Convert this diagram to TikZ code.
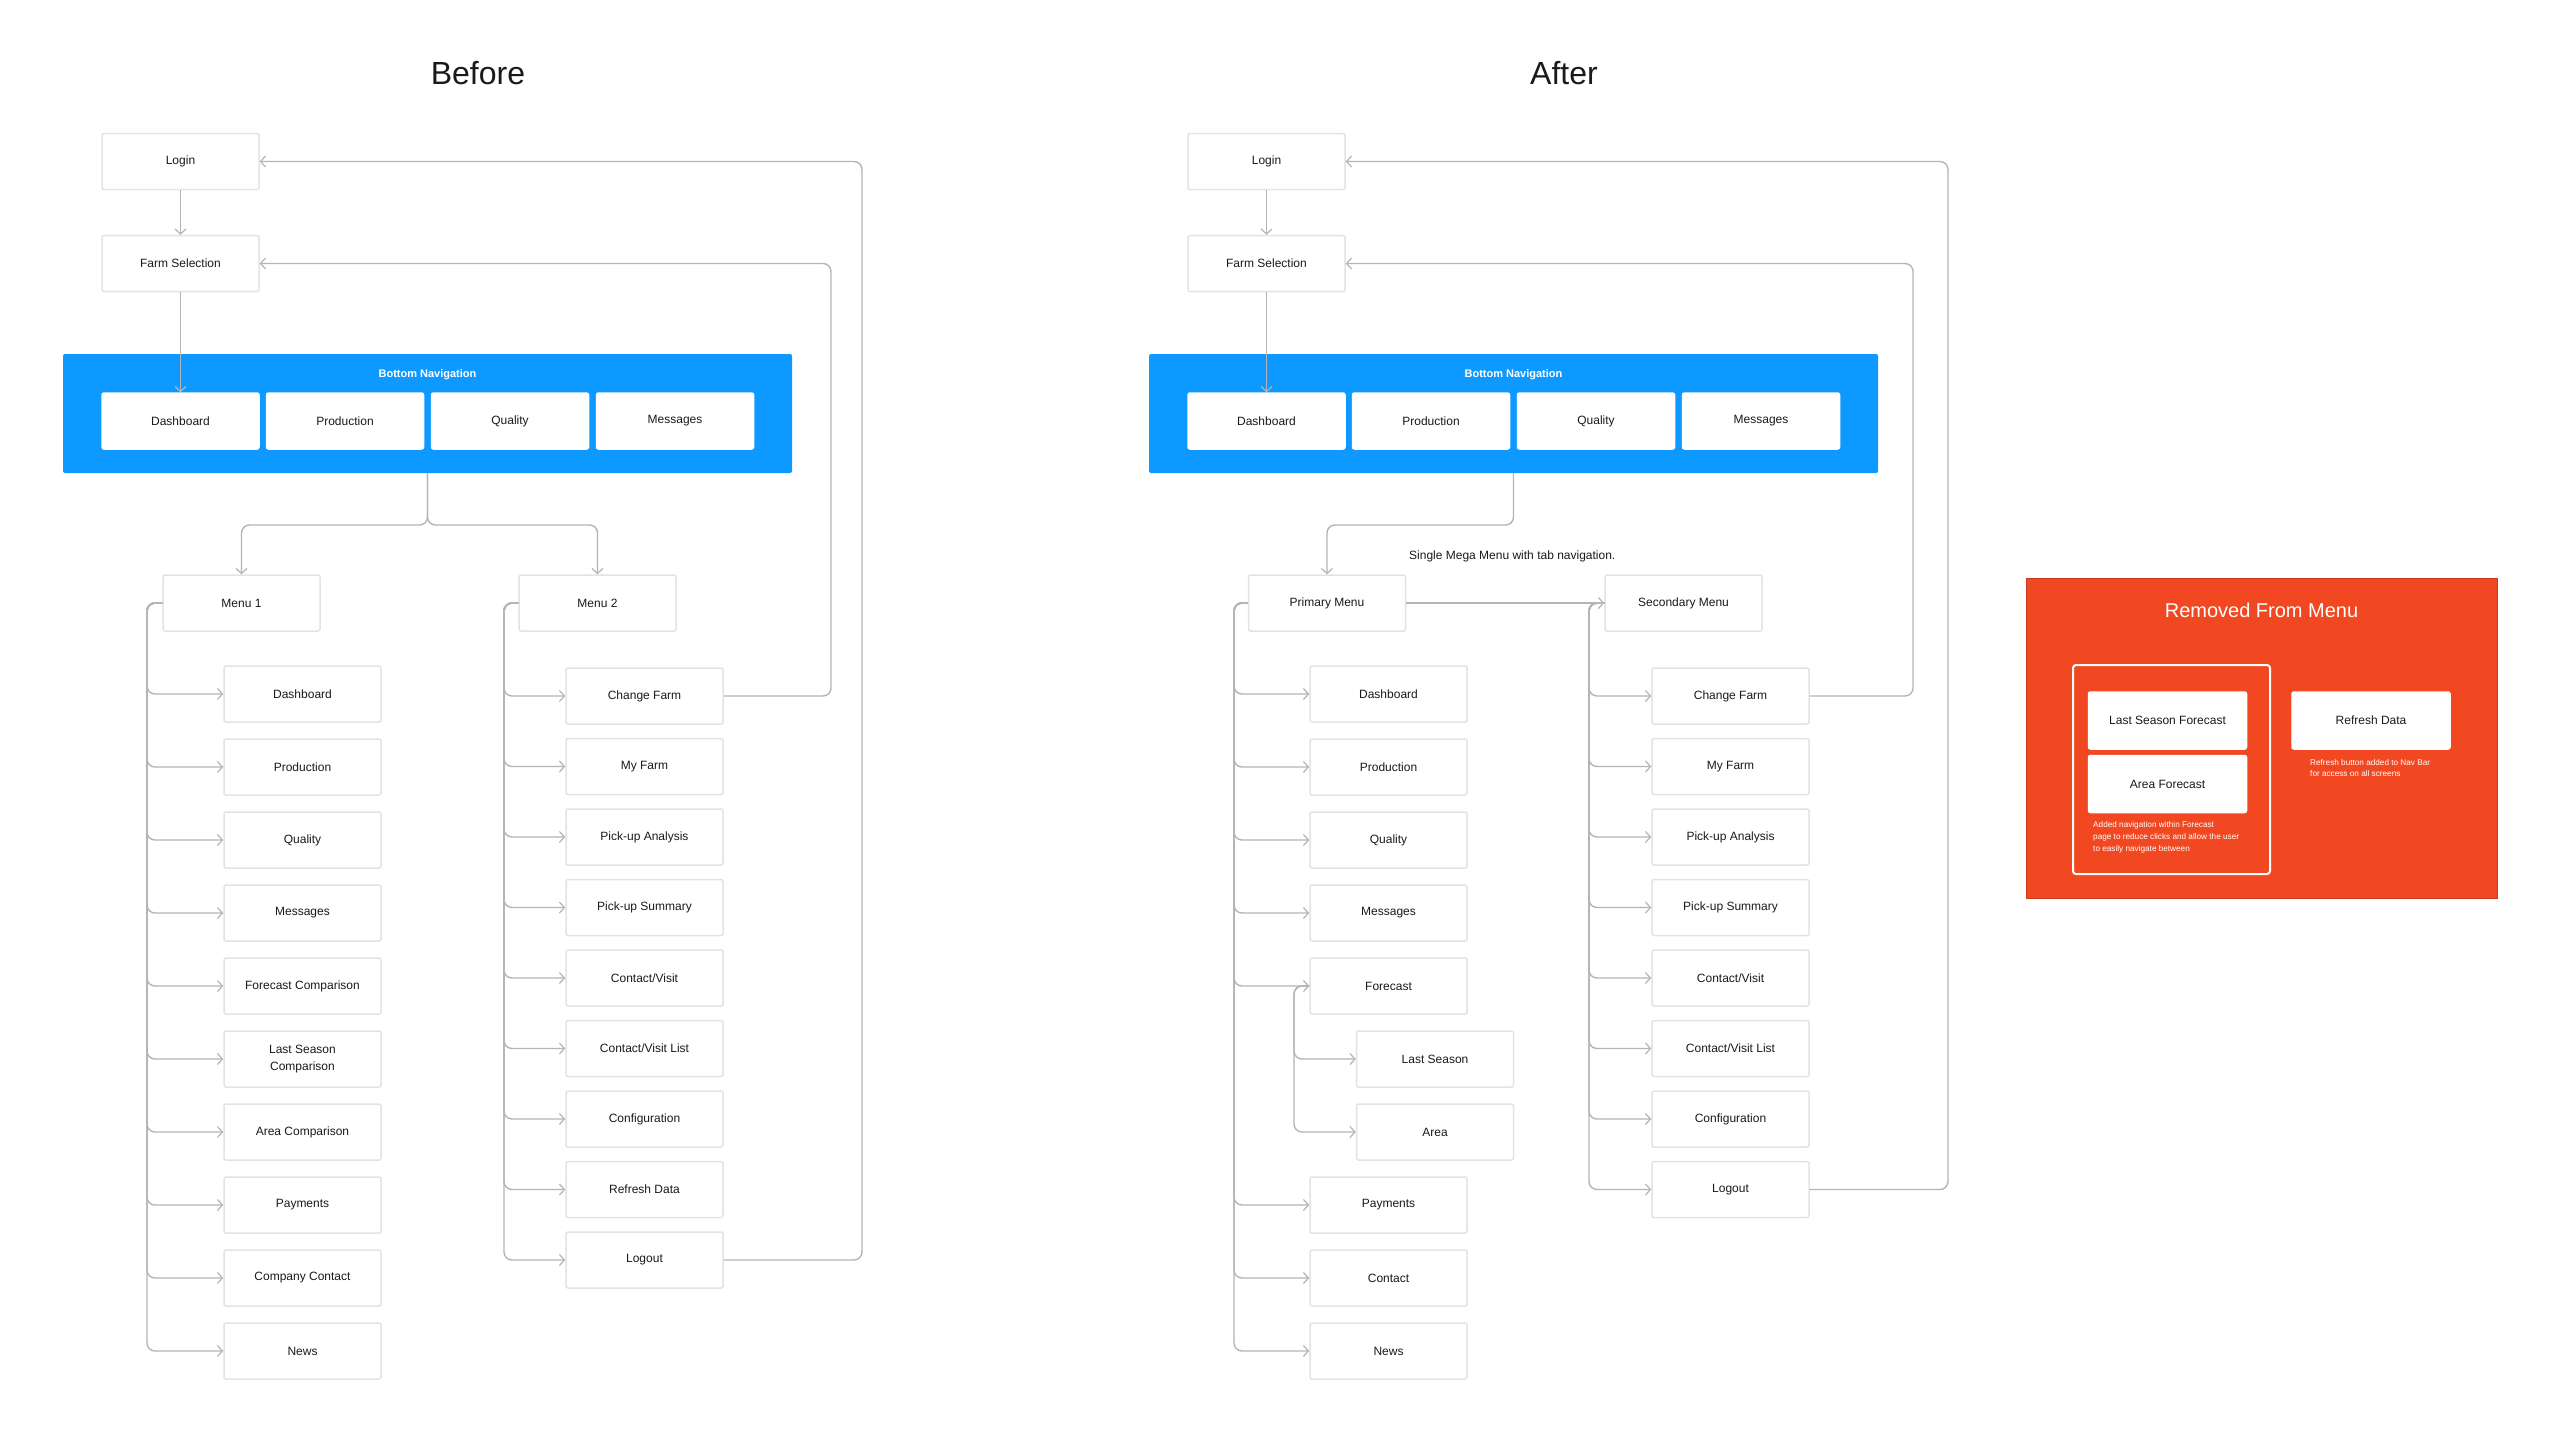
\documentclass[tikz,border=0pt]{standalone}
\usepackage{fontspec}
\setmainfont{Liberation Sans}
\usetikzlibrary{arrows.meta,calc}
\definecolor{lineg}{HTML}{B5B5B5}
\definecolor{boxg}{HTML}{E3E3E3}
\definecolor{txt}{HTML}{1A1A1A}
\definecolor{figblue}{HTML}{0D99FF}
\definecolor{figred}{HTML}{F24822}
\definecolor{redborder}{HTML}{C93A1B}
\tikzset{
  card/.style={draw=boxg, line width=1.5pt, fill=white, rounded corners=2pt,
    minimum width=157pt, minimum height=56pt, inner sep=0pt, text=txt,
    font=\fontsize{12}{17.5}\selectfont, align=center},
  navcard/.style={card, draw=white},
  conn/.style={draw=lineg, line width=1.4pt, rounded corners=8pt},
  arr/.style={conn, -{Straight Barb[length=5pt,width=11pt,line width=1.2pt]}},
  title/.style={text=txt, font=\fontsize{32}{38}\selectfont},
  navtitle/.style={text=white, font=\fontsize{11}{13}\selectfont\bfseries},
  caption/.style={anchor=west, align=left, text=white, font=\fontsize{8.2}{11.7}\selectfont, inner sep=0pt},
}
\begin{document}
\begin{tikzpicture}[x=1pt,y=-1pt]
\useasboundingbox (0,0) rectangle (2560,1440);
\fill[white] (0,0) rectangle (2560,1440);

% ================= BEFORE =================
\node[title] (tb) at (478,73) {Before};
\node[card] (login) at (180.5,161.5) {Login};
\node[card] (fs) at (180.5,263.5) {Farm Selection};
\node[fill=figblue, minimum width=729pt, minimum height=119pt, inner sep=0pt, rounded corners=2pt] (nav) at (427.5,413.5) {};
\node[navtitle] (navt) at (427.5,375) {Bottom Navigation};
\node[navcard] (nb1) at (180.5,421) {Dashboard};
\node[navcard] (nb2) at (345,421) {Production};
\node[navcard] (nb3) at (510,421) {Quality};
\node[navcard] (nb4) at (675,421) {Messages};

\node[card] (m1) at (241.5,603) {Menu 1};
\node[card] (m2) at (597.5,603) {Menu 2};

\coordinate (sp) at (0,525);
\coordinate (t1) at (147,0);
\coordinate (t2) at (504,0);
\coordinate (r1) at (862,0);
\coordinate (r2) at (831,0);

\draw[arr] (login.south) -- (fs.north);
\draw[arr] (fs.south) -- (nb1.north);
\draw[arr] (nav.south) -- (nav.south |- sp) -| (m1.north);
\draw[arr] (nav.south) -- (nav.south |- sp) -| (m2.north);

\foreach \n/\t/\y in {a1/Dashboard/694, a2/Production/767, a3/Quality/840, a4/Messages/913,
  a5/Forecast Comparison/986, a6/{Last Season\\Comparison}/1059, a7/Area Comparison/1132,
  a8/Payments/1205, a9/Company Contact/1278, a10/News/1351}{
  \node[card] (\n) at (302.5,\y) {\t};
  \draw[arr] (m1.west) -| (t1 |- \n.west) -- (\n.west);
}
\foreach \n/\t/\y in {b1/Change Farm/696, b2/My Farm/766.5, b3/Pick-up Analysis/837,
  b4/Pick-up Summary/907.5, b5/{Contact/Visit}/978, b6/{Contact/Visit List}/1048.5,
  b7/Configuration/1119, b8/Refresh Data/1189.5, b9/Logout/1260}{
  \node[card] (\n) at (644.5,\y) {\t};
  \draw[arr] (m2.west) -| (t2 |- \n.west) -- (\n.west);
}
\draw[arr] (b1.east) -| (r2 |- fs.east) -- (fs.east);
\draw[arr] (b9.east) -| (r1 |- login.east) -- (login.east);

% ================= AFTER =================
\node[title] (ta) at (1564,73) {After};
\node[card] (login2) at (1266.5,161.5) {Login};
\node[card] (fs2) at (1266.5,263.5) {Farm Selection};
\node[fill=figblue, minimum width=729pt, minimum height=119pt, inner sep=0pt, rounded corners=2pt] (nav2) at (1513.5,413.5) {};
\node[navtitle] (navt2) at (1513.5,375) {Bottom Navigation};
\node[navcard] (nc1) at (1266.5,421) {Dashboard};
\node[navcard] (nc2) at (1431,421) {Production};
\node[navcard] (nc3) at (1596,421) {Quality};
\node[navcard] (nc4) at (1761,421) {Messages};

\node[card] (pm) at (1327,603) {Primary Menu};
\node[card] (sm) at (1683.5,603) {Secondary Menu};
\node[anchor=west, text=txt, font=\fontsize{12}{14}\selectfont, inner sep=0pt] (note) at (1409,556) {Single Mega Menu with tab navigation.};

\coordinate (u1) at (1234,0);
\coordinate (u2) at (1589,0);
\coordinate (us) at (1294,0);
\coordinate (s1) at (1948,0);
\coordinate (s2) at (1913,0);

\draw[arr] (login2.south) -- (fs2.north);
\draw[arr] (fs2.south) -- (nc1.north);
\draw[arr] (nav2.south) -- (nav2.south |- sp) -| (pm.north);
\draw[arr] (pm.east) -- (sm.west);

\foreach \n/\t/\y in {c1/Dashboard/694, c2/Production/767, c3/Quality/840, c4/Messages/913,
  c5/Forecast/986, c8/Payments/1205, c9/Contact/1278, c10/News/1351}{
  \node[card] (\n) at (1388.5,\y) {\t};
  \draw[arr] (pm.west) -| (u1 |- \n.west) -- (\n.west);
}
\foreach \n/\t/\y in {c6/Last Season/1059, c7/Area/1132}{
  \node[card] (\n) at (1435,\y) {\t};
  \draw[arr] (c5.west) -| (us |- \n.west) -- (\n.west);
}
\foreach \n/\t/\y in {d1/Change Farm/696, d2/My Farm/766.5, d3/Pick-up Analysis/837,
  d4/Pick-up Summary/907.5, d5/{Contact/Visit}/978, d6/{Contact/Visit List}/1048.5,
  d7/Configuration/1119, d8/Logout/1189.5}{
  \node[card] (\n) at (1730.5,\y) {\t};
  \draw[arr] (sm.west) -| (u2 |- \n.west) -- (\n.west);
}
\draw[arr] (d1.east) -| (s2 |- fs2.east) -- (fs2.east);
\draw[arr] (d8.east) -| (s1 |- login2.east) -- (login2.east);

% ================= REMOVED PANEL =================
\node[fill=figred, draw=redborder, line width=1pt, minimum width=471pt, minimum height=320pt, inner sep=0pt] (rm) at (2261.5,738) {};
\node[text=white, font=\fontsize{20}{24}\selectfont] (rmt) at (2261.5,610) {Removed From Menu};
\node[draw=white, line width=2pt, rounded corners=3pt, minimum width=197pt, minimum height=209pt, inner sep=0pt] (grp) at (2171.5,769.5) {};
\node[navcard, minimum width=158pt, minimum height=57pt] (lsf) at (2167.5,720.5) {Last Season Forecast};
\node[navcard, minimum width=158pt, minimum height=57pt] (af) at (2167.5,784) {Area Forecast};
\node[navcard, minimum width=158pt, minimum height=57pt] (rd) at (2371,720.5) {Refresh Data};
\node[caption] (cap1) at (2093,837.5)
  {Added navigation within Forecast\\page to reduce clicks and allow the user\\to easily navigate between};
\node[caption] (cap2) at (2310,768)
  {Refresh button added to Nav Bar\\for access on all screens};
\end{tikzpicture}
\end{document}
